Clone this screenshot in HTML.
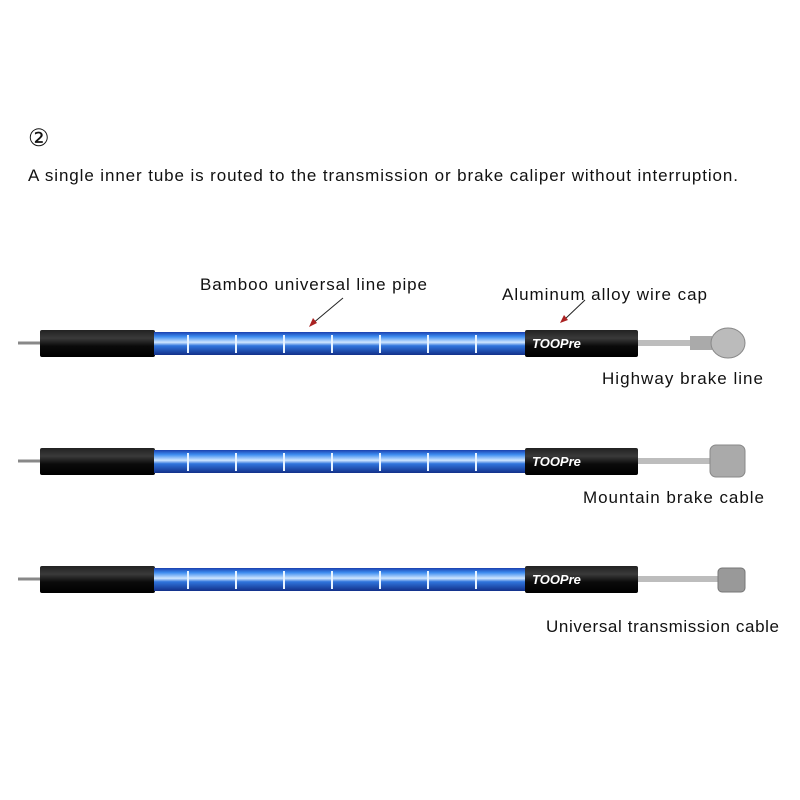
<!DOCTYPE html>
<html><head><meta charset="utf-8"><style>
html,body{margin:0;padding:0;background:#fff;width:800px;height:800px;overflow:hidden}
svg text{font-family:"Liberation Sans",sans-serif;fill:#111}
</style></head><body>
<svg width="800" height="800" viewBox="0 0 800 800" xmlns="http://www.w3.org/2000/svg">
<defs>
<linearGradient id="blue" x1="0" y1="0" x2="0" y2="1">
<stop offset="0" stop-color="#1a3fae"/><stop offset="0.2" stop-color="#3d8cf0"/><stop offset="0.45" stop-color="#cfe6ff"/><stop offset="0.6" stop-color="#2f74dc"/><stop offset="1" stop-color="#12308a"/>
</linearGradient>
<linearGradient id="blk" x1="0" y1="0" x2="0" y2="1">
<stop offset="0" stop-color="#222"/><stop offset="0.3" stop-color="#3a3a3a"/><stop offset="0.6" stop-color="#0a0a0a"/><stop offset="1" stop-color="#000"/>
</linearGradient>
<g id="cable">
<line x1="18" y1="0" x2="40" y2="0" stroke="#888" stroke-width="3"/>
<rect x="40" y="-13" width="115" height="27" rx="2" fill="url(#blk)"/>
<rect x="154" y="-11" width="372" height="23" fill="url(#blue)"/>
<g stroke="#e8f3ff" stroke-width="2">
<line x1="188" y1="-8" x2="188" y2="10"/><line x1="236" y1="-8" x2="236" y2="10"/><line x1="284" y1="-8" x2="284" y2="10"/><line x1="332" y1="-8" x2="332" y2="10"/><line x1="380" y1="-8" x2="380" y2="10"/><line x1="428" y1="-8" x2="428" y2="10"/><line x1="476" y1="-8" x2="476" y2="10"/>
</g>
<rect x="525" y="-13" width="113" height="27" rx="2" fill="url(#blk)"/>
<text x="532" y="5" font-size="13" font-style="italic" font-weight="bold" style="fill:#fff">TOOPre</text>
</g>
</defs>

<text x="28" y="146" font-size="24">②</text>
<text x="28" y="181" font-size="17" textLength="710">A single inner tube is routed to the transmission or brake caliper without interruption.</text>

<text x="200" y="290" font-size="17" textLength="227">Bamboo universal line pipe</text>
<line x1="343" y1="298" x2="312" y2="324" stroke="#222" stroke-width="1"/>
<polygon points="309,327 313,318 317,323" fill="#a22"/>
<text x="502" y="300" font-size="17" textLength="205">Aluminum alloy wire cap</text>
<line x1="585" y1="300" x2="564" y2="320" stroke="#222" stroke-width="1"/>
<polygon points="560,323 564,315 568,320" fill="#a22"/>

<use href="#cable" y="343"/>
<rect x="638" y="340" width="57" height="6" fill="#bdbdbd"/>
<rect x="690" y="336" width="22" height="14" fill="#aaa"/>
<ellipse cx="728" cy="343" rx="17" ry="15" fill="#bbb" stroke="#888"/>
<text x="602" y="384" font-size="17" textLength="161">Highway brake line</text>

<use href="#cable" y="461"/>
<rect x="638" y="458" width="74" height="6" fill="#bdbdbd"/>
<rect x="710" y="445" width="35" height="32" rx="6" fill="#aaa" stroke="#888"/>
<text x="583" y="503" font-size="17" textLength="181">Mountain brake cable</text>

<use href="#cable" y="579"/>
<rect x="638" y="576" width="82" height="6" fill="#bdbdbd"/>
<rect x="718" y="568" width="27" height="24" rx="4" fill="#999" stroke="#777"/>
<text x="546" y="632" font-size="17" textLength="233">Universal transmission cable</text>
</svg>
</body></html>
